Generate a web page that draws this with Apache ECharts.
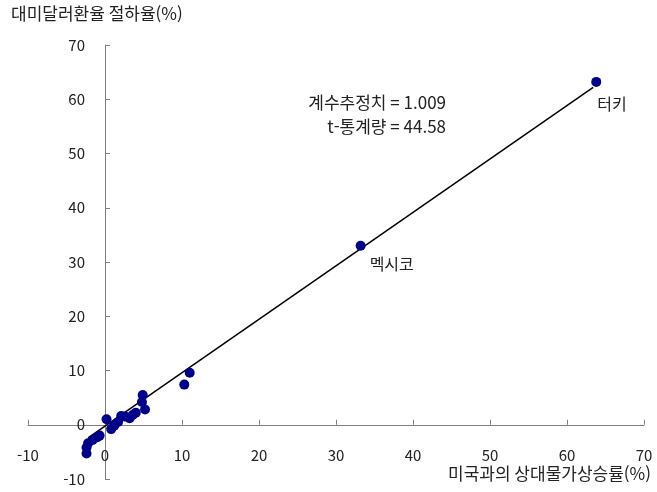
<!DOCTYPE html>
<html lang="ko">
<head>
<meta charset="UTF-8" />
<title>상대물가와 환율</title>
<style>
  body { margin: 0; padding: 0; background: #fff; }
  #chart { width: 657px; height: 492px; }
</style>
</head>
<body>
<div id="chart"></div>
<script src="https://cdn.jsdelivr.net/npm/echarts@6/dist/echarts.min.js"></script>
<script>
  // 국가별 점: [상대물가상승률, 환율 절하율]
  const points = [
    [-2.4, -5.3], [-2.4, -4.2], [-2.2, -3.4], [-1.6, -2.8], [-1.0, -2.3], [-0.7, -2.0],
    [0.2, 1.0], [0.8, -0.8], [1.2, -0.2], [1.7, 0.5], [2.1, 1.6], [2.6, 1.5],
    [3.2, 1.2], [3.6, 1.8], [4.0, 2.2], [4.8, 4.2], [4.9, 5.5], [5.2, 2.8],
    [10.3, 7.4], [11.0, 9.6], [33.2, 33.0], [63.8, 63.2]
  ];
  // 회귀선 양 끝
  const fitLine = [[-2.2, -2.4], [63.4, 62.2]];
  const xTicks = { min: -10, max: 70, step: 10 };
  const yTicks = { min: -10, max: 70, step: 10 };
  const pointNames = { 20: '멕시코', 21: '터키' };
  const labelOffsets = { 20: [14, 15], 21: [6, 19] };

  const fontFam = '"Noto Sans CJK KR", "Noto Sans", sans-serif';
  const gridBox = { left: 28, right: 13, top: 45, bottom: 13 };
  const chartW = 657, chartH = 492;
  // 축을 0 위치로 옮기기 위한 offset (라벨까지 함께 이동)
  const plotW = chartW - gridBox.left - gridBox.right;
  const plotH = chartH - gridBox.top - gridBox.bottom;
  const yAxisShift = -plotW * (0 - xTicks.min) / (xTicks.max - xTicks.min);
  const xAxisShift = -plotH * (0 - yTicks.min) / (yTicks.max - yTicks.min);

  const chart = echarts.init(document.getElementById('chart'));

  chart.setOption({
    animation: false,
    textStyle: { fontFamily: fontFam },
    grid: Object.assign({ outerBoundsMode: 'none', containLabel: false }, gridBox),
    graphic: [
      { type: 'text', left: 11, top: 5,
        style: { text: '대미달러환율 절하율(%)', fontSize: 17, fill: '#222', fontFamily: fontFam } },
      { type: 'text', right: 6, top: 465,
        style: { text: '미국과의 상대물가상승률(%)', fontSize: 17, fill: '#222', fontFamily: fontFam } },
      { type: 'text', x: 446, y: 91,
        style: { text: '계수추정치 = 1.009\nt-통계량 = 44.58', align: 'right', fontSize: 17,
                 lineHeight: 24, fill: '#222', fontFamily: fontFam } }
    ],
    xAxis: {
      type: 'value', min: xTicks.min, max: xTicks.max, interval: xTicks.step,
      position: 'bottom', offset: xAxisShift,
      splitLine: { show: false },
      axisLine: { onZero: false, lineStyle: { color: '#808080', width: 1 } },
      axisTick: { inside: true, length: 5, lineStyle: { color: '#808080' } },
      axisLabel: { margin: 23, fontSize: 15, color: '#222' }
    },
    yAxis: {
      type: 'value', min: yTicks.min, max: yTicks.max, interval: yTicks.step,
      position: 'left', offset: yAxisShift,
      splitLine: { show: false },
      axisLine: { onZero: false, lineStyle: { color: '#808080', width: 1 } },
      axisTick: { inside: true, length: 5, lineStyle: { color: '#808080' } },
      axisLabel: { margin: 20, fontSize: 15, color: '#222' }
    },
    series: [
      {
        type: 'line', data: fitLine, showSymbol: false, symbol: 'none',
        lineStyle: { color: '#000', width: 1.5 }, z: 3
      },
      {
        type: 'scatter', symbolSize: 10, z: 4,
        itemStyle: { color: '#00008B', opacity: 1 },
        data: points.map((p, i) => pointNames[i]
          ? { value: p, label: { show: true, formatter: pointNames[i], position: labelOffsets[i],
              fontSize: 16, color: '#222' } }
          : p)
      }
    ]
  });
</script>
</body>
</html>
